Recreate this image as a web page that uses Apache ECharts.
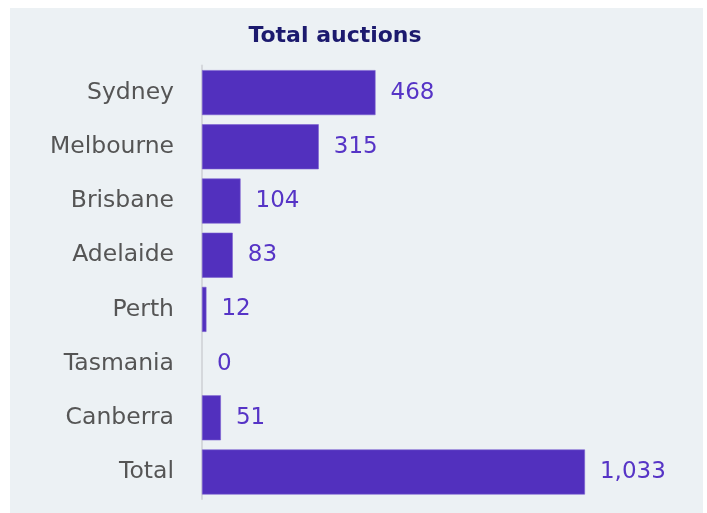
<!DOCTYPE html>
<html>
<head>
<meta charset="utf-8">
<script src="https://cdn.jsdelivr.net/npm/echarts@6/dist/echarts.min.js"></script>
<style>
html,body{margin:0;padding:0;background:#fff;}
#c{width:707px;height:513px;}
</style>
</head>
<body>
<div id="c"></div>
<script>
const categories = ["Sydney","Melbourne","Brisbane","Adelaide","Perth","Tasmania","Canberra","Total"];
const values = [468,315,104,83,12,0,51,1033];
const titleText = "Total auctions";

const chart = echarts.init(document.getElementById('c'), null, {renderer:'canvas'});
const FONT = "'DejaVu Sans', sans-serif";
chart.setOption({
  backgroundColor: '#ffffff',
  animation: false,
  graphic: [{
    type: 'rect', z: -10, silent: true,
    shape: {x: 10, y: 8, width: 693, height: 505},
    style: {fill: '#ECF1F4'}
  }],
  title: {
    text: titleText, left: 330, top: 20, textAlign: 'center',
    textStyle: {fontFamily: FONT, fontSize: 22, fontWeight: 'bold', color: '#1C1A6E'}
  },
  grid: {left: 202, top: 65.5, width: 479, height: 433.6, containLabel: false},
  xAxis: {
    type: 'value', min: 0, max: 1292, show: false
  },
  yAxis: {
    type: 'category', data: categories, inverse: true,
    axisLine: {show: true, lineStyle: {color: '#D5D8DC', width: 2}},
    axisTick: {show: false},
    axisLabel: {fontFamily: FONT, fontSize: 23.5, color: '#555555', margin: 28}
  },
  series: [{
    type: 'bar',
    data: values.map(v => ({value: v, itemStyle: {borderWidth: v > 0 ? 0.6 : 0}})),
    barCategoryGap: '17%',
    itemStyle: {color: '#5230BE', borderColor: '#7A5FD0'},
    label: {
      show: true, position: 'right', distance: 15,
      fontFamily: FONT, fontSize: 23, color: '#5634C6',
      formatter: p => p.value.toLocaleString('en-US')
    }
  }]
});
</script>
</body>
</html>
